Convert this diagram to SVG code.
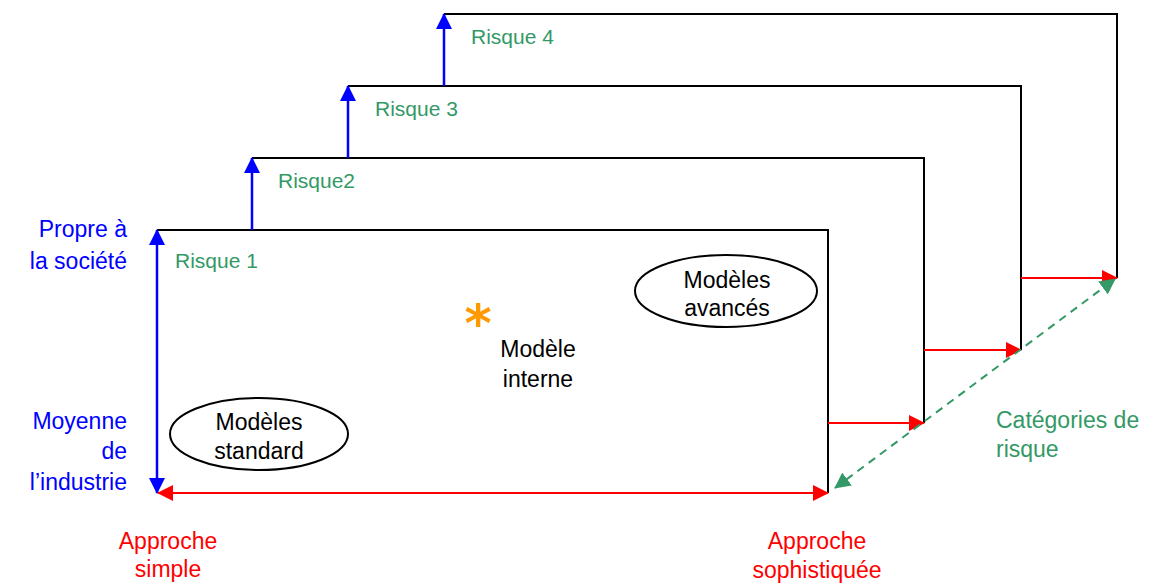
<svg xmlns="http://www.w3.org/2000/svg" width="1154" height="585" viewBox="0 0 1154 585">
<style>
text{font-family:"Liberation Sans","DejaVu Sans",sans-serif;font-size:23px}
.blue{fill:#0000FF}
.red{fill:#FF0000}
.green{fill:#339966}
.blk{fill:#000000}
.mid{text-anchor:middle}
.end{text-anchor:end}
.risk{font-size:21px;fill:#339966}
.frame{fill:none;stroke:#000;stroke-width:2}
.ell{fill:#fff;stroke:#000;stroke-width:2}
.ab{stroke:#0000FF;stroke-width:2.5;fill:none}
.ar{stroke:#FF0000;stroke-width:2;fill:none}
.ag{stroke:#339966;stroke-width:2;fill:none;stroke-dasharray:8 6}
</style>
<defs>
<marker id="hb" markerUnits="userSpaceOnUse" markerWidth="17" markerHeight="16" refX="15" refY="8" orient="auto-start-reverse"><path d="M0,0 L16,8 L0,16 Z" fill="#0000FF"/></marker>
<marker id="hr" markerUnits="userSpaceOnUse" markerWidth="17" markerHeight="16" refX="15" refY="8" orient="auto-start-reverse"><path d="M0,0 L16,8 L0,16 Z" fill="#FF0000"/></marker>
<marker id="hg" markerUnits="userSpaceOnUse" markerWidth="17" markerHeight="16" refX="15" refY="8" orient="auto-start-reverse"><path d="M0,0 L16,8 L0,16 Z" fill="#339966"/></marker>
</defs>
<g id="frame4"><path class="frame" d="M444,14 H1117 V278"/><text class="risk" x="471" y="44">Risque 4</text></g>
<g id="frame3"><path class="frame" d="M348,86 H1021 V350"/><text class="risk" x="375" y="116">Risque 3</text></g>
<g id="frame2"><path class="frame" d="M252,158 H924 V423"/><text class="risk" x="278" y="188">Risque2</text></g>
<g id="frame1"><path class="frame" d="M157,230 H828 V493"/><text class="risk" x="175" y="268">Risque 1</text></g>
<g id="modeles-standard"><ellipse class="ell" cx="259" cy="434" rx="89" ry="36"/><text class="blk mid" x="259" y="430">Modèles</text><text class="blk mid" x="259" y="459">standard</text></g>
<g id="modeles-avances"><ellipse class="ell" cx="726" cy="291" rx="91" ry="36"/><text class="blk mid" x="727" y="288">Modèles</text><text class="blk mid" x="727" y="316">avancés</text></g>
<g id="modele-interne"><text x="478" y="341" style="font-family:'DejaVu Sans',sans-serif;font-size:52px;font-weight:bold;fill:#FF9900" class="mid">*</text><text class="blk mid" x="538" y="357">Modèle</text><text class="blk mid" x="538" y="387">interne</text></g>
<g id="axis-labels">
<text class="blue end" x="127" y="237">Propre à</text>
<text class="blue end" x="127" y="269">la société</text>
<text class="blue end" x="127" y="429">Moyenne</text>
<text class="blue end" x="127" y="459">de</text>
<text class="blue end" x="127" y="490">l’industrie</text>
<text class="red mid" x="168" y="549">Approche</text>
<text class="red mid" x="168" y="577">simple</text>
<text class="red mid" x="817" y="549">Approche</text>
<text class="red mid" x="817" y="578">sophistiquée</text>
<text class="green" x="996" y="428">Catégories de</text>
<text class="green" x="996" y="457">risque</text>
</g>
<g id="connectors">
<line class="ab" x1="157" y1="493" x2="157" y2="230" marker-start="url(#hb)" marker-end="url(#hb)"/>
<line class="ab" x1="252" y1="230" x2="252" y2="158" marker-end="url(#hb)"/>
<line class="ab" x1="348" y1="158" x2="348" y2="86" marker-end="url(#hb)"/>
<line class="ab" x1="444" y1="86" x2="444" y2="14" marker-end="url(#hb)"/>
<line class="ar" x1="158" y1="493" x2="828" y2="493" marker-start="url(#hr)" marker-end="url(#hr)"/>
<line class="ar" x1="828" y1="423" x2="924" y2="423" marker-end="url(#hr)"/>
<line class="ar" x1="924" y1="350" x2="1021" y2="350" marker-end="url(#hr)"/>
<line class="ar" x1="1021" y1="278" x2="1117" y2="278" marker-end="url(#hr)"/>
<line class="ag" x1="835" y1="488" x2="1115" y2="279" marker-start="url(#hg)" marker-end="url(#hg)"/>
</g>
</svg>
